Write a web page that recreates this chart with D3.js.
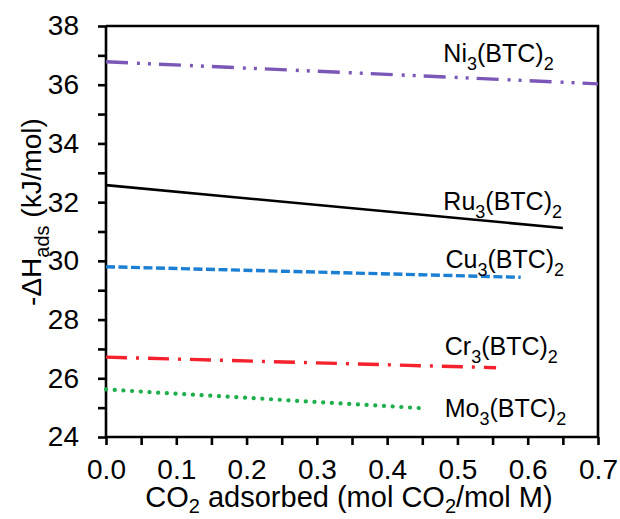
<!DOCTYPE html>
<html>
<head>
<meta charset="utf-8">
<script src="https://cdn.jsdelivr.net/npm/d3@7"></script>
<style>
  body { margin: 0; background: #fff; }
  svg text { font-family: "Liberation Sans", Arial, sans-serif; fill: #000; }
</style>
</head>
<body>
<svg id="chart" width="620" height="519"></svg>
<script>
// metal names for the M3(BTC)2 series, top to bottom
const metals = ["Ni", "Ru", "Cu", "Cr", "Mo"];
// line end points: [x at start, x at end], [ΔH start, ΔH end]
const loadings = [[0, 0.7], [0, 0.65], [0, 0.59], [0, 0.555], [0, 0.45]];
const enthalpies = [[36.78, 36.03], [32.58, 31.12], [29.8, 29.44], [26.72, 26.36], [25.62, 24.98]];
// where each name sits (data units, left edge / baseline)
const labelX = [0.48, 0.48, 0.483, 0.482, 0.482];
const labelY = [36.76, 31.73, 29.76, 26.79, 24.68];

const colors = ["#7b57b8", "#000000", "#1b7fd3", "#f5212c", "#1faf4c"];
const dashes = ["22,9,3,8,3,8", null, "9,3.5", "21,9,3,9", "0.1,8.6"];
const widths = [3.4, 2.6, 3.4, 3.4, 4.2];

const yTicks = d3.range(24, 38.1, 1);
const xTicks = d3.range(0, 0.701, 0.05);

const svg = d3.select("#chart");
const margin = { top: 26, right: 22, bottom: 82, left: 106 };
const width = 620, height = 519;

const x = d3.scaleLinear().domain([0, 0.7]).range([margin.left, width - margin.right]);
const y = d3.scaleLinear().domain([24, 38]).range([height - margin.bottom, margin.top]);

// frame (top + right)
svg.append("path")
  .attr("d", `M${x(0)},${y(38)}H${x(0.7)}V${y(24)}`)
  .attr("fill", "none").attr("stroke", "#000").attr("stroke-width", 2.6);

// y axis
svg.append("g")
  .attr("transform", `translate(${x(0)},0)`)
  .call(d3.axisLeft(y).tickValues(yTicks).tickSize(8).tickPadding(19)
    .tickFormat(d => d % 2 === 0 ? d : ""))
  .call(g => g.selectAll("line, path").attr("stroke", "#000").attr("stroke-width", 2.6))
  .call(g => g.select(".domain").attr("d", `M0,${y(38)}V${y(24)}`))
  .call(g => g.selectAll("text").filter(function () { return this.textContent === ""; }).remove())
  .call(g => g.selectAll("text").attr("font-size", 28).attr("fill", "#000"));

// x axis
svg.append("g")
  .attr("transform", `translate(0,${y(24)})`)
  .call(d3.axisBottom(x).tickValues(xTicks).tickSize(8).tickPadding(14)
    .tickFormat(d => Math.round(d * 100) % 10 === 0 ? d3.format(".1f")(d) : ""))
  .call(g => g.selectAll("line, path").attr("stroke", "#000").attr("stroke-width", 2.6))
  .call(g => g.select(".domain").attr("d", `M${x(0)},0H${x(0.7)}`))
  .call(g => g.selectAll("text").filter(function () { return this.textContent === ""; }).remove())
  .call(g => g.selectAll("text").attr("font-size", 28).attr("fill", "#000"));

// series lines
const line = d3.line().x(d => x(d[0])).y(d => y(d[1]));
metals.forEach((m, i) => {
  const pts = loadings[i].map((lx, j) => [lx, enthalpies[i][j]]);
  svg.append("path")
    .attr("d", line(pts))
    .attr("fill", "none")
    .attr("stroke", colors[i])
    .attr("stroke-width", widths[i])
    .attr("stroke-dasharray", dashes[i])
    .attr("stroke-linecap", i === 4 ? "round" : "butt");
});

// text with subscripts: parts = [[text, isSub], ...]
function richText(sel, parts, size, subSize, drop) {
  drop = drop == null ? Math.round(size * 0.3) : drop;
  let shift = 0;
  parts.forEach(([t, sub]) => {
    const target = sub ? drop : 0;
    sel.append("tspan")
      .attr("font-size", sub ? subSize : size)
      .attr("dy", target - shift)
      .text(t);
    shift = target;
  });
}

// series names
metals.forEach((m, i) => {
  const t = svg.append("text")
    .attr("x", x(labelX[i]))
    .attr("y", y(labelY[i]))
    .attr("font-size", 25);
  richText(t, [[m, false], ["3", true], ["(BTC)", false], ["2", true]], 25, 18);
});

// x axis title
const xt = svg.append("text")
  .attr("x", 349).attr("y", 507)
  .attr("text-anchor", "middle")
  .attr("font-size", 29);
richText(xt, [["CO", false], ["2", true], [" adsorbed (mol CO", false], ["2", true], ["/mol M)", false]], 29, 20, 6);

// y axis title
const yt = svg.append("text")
  .attr("transform", `translate(41,212) rotate(-90)`)
  .attr("text-anchor", "middle")
  .attr("font-size", 28);
richText(yt, [["-\u0394H", false], ["ads", true], [" (kJ/mol)", false]], 28, 20);
</script>
</body>
</html>
